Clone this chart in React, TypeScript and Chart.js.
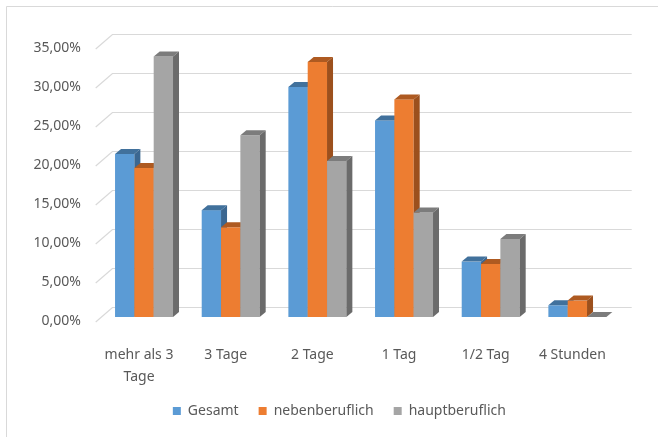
import React, { useEffect, useRef } from "react";
import { Chart, registerables } from "chart.js";

Chart.register(...registerables);

const categories: (string | string[])[] = [["mehr als 3", "Tage"], "3 Tage", "2 Tage", "1 Tag", "1/2 Tag", "4 Stunden"];
const seriesNames = ["Gesamt", "nebenberuflich", "hauptberuflich"];
const gesamt = [20.9, 13.7, 29.5, 25.2, 7.1, 1.5];
const nebenberuflich = [19.1, 11.5, 32.7, 27.9, 6.8, 2.1];
const hauptberuflich = [33.4, 23.3, 20.0, 13.4, 10.0, 0];
const yMin = 0;
const yMax = 35;
const yStep = 5;

const FRONT = ["#5B9BD5", "#ED7D31", "#A5A5A5"];
const TOP = ["#41719C", "#AE5A21", "#7C7C7C"];
const SIDE = ["#3B6791", "#9C501D", "#6B6B6B"];

const FONT = "'Noto Sans', sans-serif";
const TEXT = "#595959";
const GRID = "#D9D9D9";

const BAR_DX = 6;
const BAR_DY = 5;
const WALL_DX = 16.7;
const WALL_DY = 14.5;
const FRONT_OFF_X = -5;
const FRONT_OFF_Y = 4.5;
const LEGEND_SHIFT_X = 29;
const LEGEND_SHIFT_Y = -3;

const threeD = {
  id: "threeD",
  afterLayout(chart: any) {
    const lg = chart.legend;
    if (lg) {
      lg.left += LEGEND_SHIFT_X;
      lg.right += LEGEND_SHIFT_X;
      lg.top += LEGEND_SHIFT_Y;
      lg.bottom += LEGEND_SHIFT_Y;
    }
  },
  beforeDraw(chart: any) {
    const ctx = chart.ctx;
    ctx.save();
    ctx.fillStyle = "#ffffff";
    ctx.fillRect(0, 0, chart.width, chart.height);
    ctx.strokeStyle = GRID;
    ctx.lineWidth = 1;
    ctx.beginPath();
    ctx.moveTo(6.5, chart.height);
    ctx.lineTo(6.5, 6.5);
    ctx.lineTo(chart.width, 6.5);
    ctx.stroke();
    ctx.restore();
  },
  beforeDatasetsDraw(chart: any) {
    const { ctx, chartArea } = chart;
    const y = chart.scales.y;
    ctx.save();
    ctx.strokeStyle = GRID;
    ctx.lineWidth = 1.2;
    y.ticks.forEach((t: any) => {
      const py = y.getPixelForValue(t.value) + FRONT_OFF_Y;
      const px = chartArea.left + FRONT_OFF_X;
      const by = Math.round(py - WALL_DY) + 0.5;
      ctx.beginPath();
      ctx.moveTo(px, by + WALL_DY);
      ctx.lineTo(px + WALL_DX, by);
      ctx.lineTo(chartArea.right + 11, by);
      ctx.stroke();
    });
    chart.data.datasets.forEach((_ds: any, i: number) => {
      if (!chart.isDatasetVisible(i)) return;
      const meta = chart.getDatasetMeta(i);
      meta.data.forEach((el: any) => {
        const { x, y: top, base, width } = el.getProps(["x", "y", "base", "width"], true);
        const l = x - width / 2;
        const r = x + width / 2;
        ctx.fillStyle = FRONT[i];
        ctx.fillRect(l, top, width, base - top);
        ctx.fillStyle = TOP[i];
        ctx.beginPath();
        ctx.moveTo(l, top);
        ctx.lineTo(r, top);
        ctx.lineTo(r + BAR_DX, top - BAR_DY);
        ctx.lineTo(l + BAR_DX, top - BAR_DY);
        ctx.closePath();
        ctx.fill();
        ctx.fillStyle = SIDE[i];
        ctx.beginPath();
        ctx.moveTo(r, top);
        ctx.lineTo(r + BAR_DX, top - BAR_DY);
        ctx.lineTo(r + BAR_DX, base - BAR_DY);
        ctx.lineTo(r, base);
        ctx.closePath();
        ctx.fill();
      });
    });
    ctx.restore();
    return false;
  },
};

export default function App() {
  const ref = useRef<HTMLCanvasElement | null>(null);
  useEffect(() => {
    if (!ref.current) return;
    Chart.defaults.font.family = FONT;
    const series = [gesamt, nebenberuflich, hauptberuflich];
    const chart = new Chart(ref.current, {
      type: "bar",
      data: {
        labels: categories as any,
        datasets: series.map((d, i) => ({
          label: seriesNames[i],
          data: d,
          backgroundColor: FRONT[i],
          borderWidth: 0,
          barPercentage: 1,
          categoryPercentage: 0.669,
        })),
      },
      options: {
        responsive: false,
        animation: false,
        layout: { padding: { left: 0, right: 37.3, top: 44, bottom: 6 } },
        plugins: {
          legend: {
            position: "bottom",
            labels: {
              boxWidth: 8,
              boxHeight: 8,
              padding: 20,
              color: TEXT,
              font: { family: FONT, size: 14 },
            },
          },
          tooltip: { enabled: false },
        },
        scales: {
          x: {
            grid: { display: false, drawTicks: false },
            border: { display: false },
            ticks: {
              padding: 27,
              labelOffset: -5,
              color: TEXT,
              maxRotation: 0,
              autoSkip: false,
              font: { family: FONT, size: 14, lineHeight: 1.57 },
            },
            afterFit: (s: any) => {
              s.height = 70;
            },
          },
          y: {
            min: yMin,
            max: yMax,
            grid: { display: false, drawTicks: false },
            border: { display: false },
            ticks: {
              stepSize: yStep,
              padding: 19.7,
              labelOffset: 4.5,
              color: TEXT,
              font: { family: FONT, size: 14 },
              callback: (v: any) => Number(v).toFixed(2).replace(".", ",") + "%",
            },
            afterFit: (s: any) => {
              s.width = 100.7;
            },
          },
        },
      },
      plugins: [threeD],
    } as any);
    return () => chart.destroy();
  }, []);
  return (
    <div style={{ position: "fixed", left: 0, top: 0, width: 658, height: 437, background: "#fff" }}>
      <canvas ref={ref} width={658} height={437} style={{ display: "block" }} />
    </div>
  );
}
